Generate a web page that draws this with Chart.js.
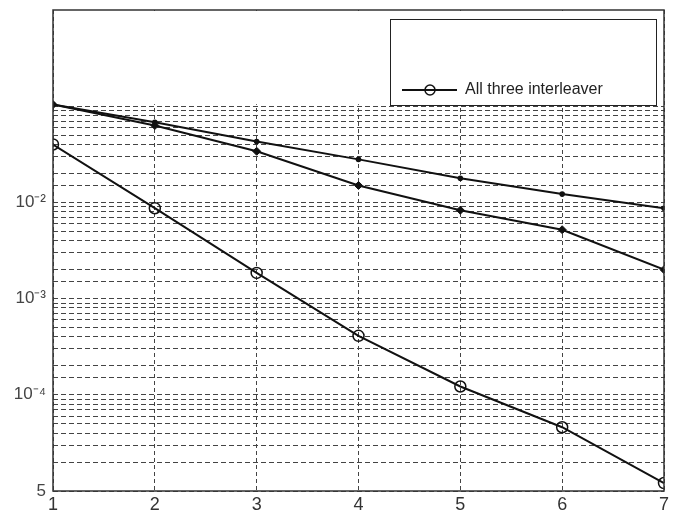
<!DOCTYPE html>
<html>
<head>
<meta charset="utf-8">
<script src="https://cdn.jsdelivr.net/npm/chart.js@4.4.1/dist/chart.umd.min.js"></script>
<style>
  body { margin: 0; background: #fff; }
  #wrap { width: 676px; height: 515px; }
</style>
</head>
<body>
<div id="wrap"><canvas id="c" width="676" height="515"></canvas></div>
<script>
// x positions (1..7)
const xValues = [1, 2, 3, 4, 5, 6, 7];

const allThree = [0.040, 0.0087, 0.00185, 0.00041, 0.000122, 0.000046, 0.0000121];
const middleSeries = [0.104, 0.063, 0.034, 0.015, 0.0083, 0.0052, 0.0020];
const topSeries = [0.104, 0.068, 0.043, 0.028, 0.0178, 0.0122, 0.0087];

const legendLabel = 'All three interleaver';

// y tick labels that are shown (the rest stay blank)
const yTickValues = [1e-2, 1e-3, 1e-4, 1e-5];
const yTickText = ['10\u207B\u00B2', '10\u207B\u00B3', '10\u207B\u2074', '5'];

function pts(arr) {
	return xValues.map((x, i) => ({ x: x, y: arr[i] }));
}

// white box with the single legend entry, top right of the plot
const legendBox = {
	id: 'legendBox',
	beforeDatasetsDraw(chart) {
		// top band of the figure is blank in the original
		const a = chart.chartArea;
		const ys = chart.scales.y;
		const yLim = ys.getPixelForValue(0.1) - 2;
		const c = chart.ctx;
		c.save();
		c.fillStyle = '#fff';
		c.fillRect(a.left + 1, a.top + 1, a.right - a.left - 2, yLim - a.top - 1);
		c.restore();
	},
	afterDraw(chart) {
		const a = chart.chartArea;
		const c = chart.ctx;
		c.save();
		// frame
		c.strokeStyle = '#333';
		c.lineWidth = 1.5;
		c.strokeRect(a.left, a.top, a.right - a.left, a.bottom - a.top);

		const w = 266, h = 86;
		const bx = a.right - 8 - w, by = a.top + 9;
		c.fillStyle = '#fff';
		c.fillRect(bx, by, w, h);
		c.strokeStyle = '#222';
		c.lineWidth = 1;
		c.strokeRect(bx + 0.5, by + 0.5, w, h);

		const ly = by + 71;
		c.strokeStyle = '#111';
		c.lineWidth = 2;
		c.beginPath();
		c.moveTo(bx + 12, ly);
		c.lineTo(bx + 67, ly);
		c.stroke();
		c.lineWidth = 1.5;
		c.beginPath();
		c.arc(bx + 40, ly, 5, 0, Math.PI * 2);
		c.stroke();

		c.fillStyle = '#222';
		c.font = '16px "Liberation Sans", Arial, sans-serif';
		c.textBaseline = 'middle';
		c.fillText(legendLabel, bx + 75, ly);
		c.restore();
	}
};

new Chart(document.getElementById('c'), {
	type: 'line',
	data: {
		datasets: [{
			label: legendLabel,
			data: pts(allThree),
			borderColor: '#111',
			borderWidth: 2,
			pointStyle: 'circle',
			pointRadius: 5.5,
			pointBorderWidth: 1.5,
			pointBorderColor: '#111',
			pointBackgroundColor: 'rgba(0,0,0,0)',
			tension: 0
		}, {
			label: 'b',
			data: pts(middleSeries),
			borderColor: '#111',
			borderWidth: 2,
			pointStyle: 'rectRot',
			pointRadius: 4,
			pointBorderWidth: 1,
			pointBorderColor: '#111',
			pointBackgroundColor: '#111',
			tension: 0
		}, {
			label: 'c',
			data: pts(topSeries),
			borderColor: '#111',
			borderWidth: 2,
			pointRadius: 1.8,
			pointBackgroundColor: '#111',
			pointBorderColor: '#111',
			tension: 0
		}]
	},
	options: {
		responsive: false,
		animation: false,
		layout: { padding: { top: 10, right: 12, left: 0, bottom: 0 } },
		plugins: {
			legend: { display: false },
			tooltip: { enabled: false }
		},
		scales: {
			x: {
				type: 'linear',
				min: 1,
				max: 7,
				border: { display: false, dash: [4, 3] },
				grid: {
					drawTicks: false,
					color: '#444',
					lineWidth: 1
				},
				ticks: {
					stepSize: 1,
					padding: 3,
					color: '#333',
					font: { family: '"Liberation Sans", Arial, sans-serif', size: 18 }
				},
				afterFit(s) { s.height = 24; s.paddingLeft = 0; s.paddingRight = 0; }
			},
			y: {
				type: 'logarithmic',
				min: 1e-5,
				max: 1,
				border: { display: false, dash: [5, 3] },
				grid: {
					drawTicks: false,
					lineWidth: 1,
					color: (ctx) => (ctx.tick && ctx.tick.value > 0.1001) ? 'rgba(0,0,0,0)' : '#444'
				},
				ticks: {
					autoSkip: false,
					padding: 7,
					color: '#444',
					font: { family: '"Liberation Sans", Arial, sans-serif', size: 17 },
					callback: function (v) {
						for (let i = 0; i < yTickValues.length; i++) {
							if (Math.abs(Math.log10(v) - Math.log10(yTickValues[i])) < 1e-6) return yTickText[i];
						}
						return '';
					}
				},
				afterFit(s) { s.width = 53; s.paddingTop = 0; s.paddingBottom = 0; }
			}
		}
	},
	plugins: [legendBox]
});
</script>
</body>
</html>
